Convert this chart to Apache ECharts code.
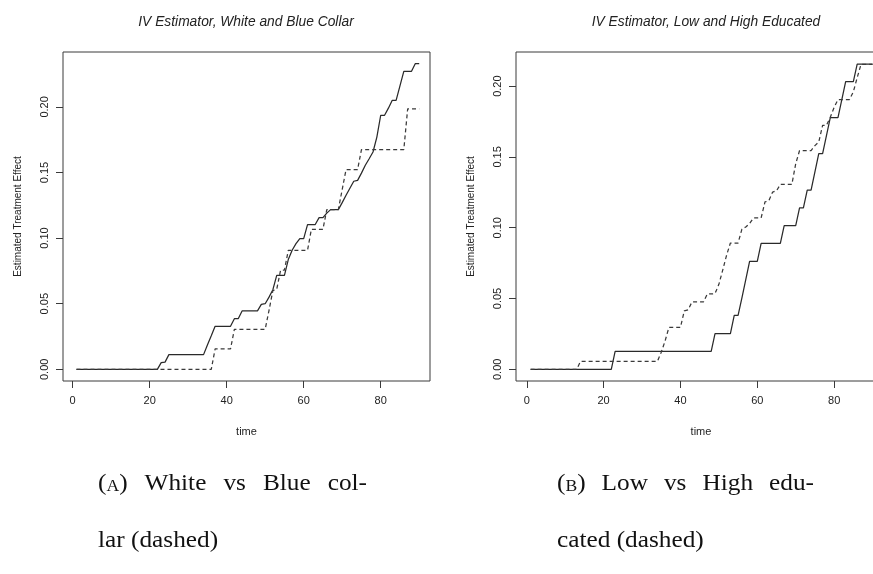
<!DOCTYPE html>
<html>
<head>
<meta charset="utf-8">
<script src="https://cdn.jsdelivr.net/npm/echarts@6/dist/echarts.min.js"></script>
<style>
html,body{margin:0;padding:0;background:#fff;overflow:hidden;width:873px;height:574px;}
#chart{width:900px;height:574px;}
</style>
</head>
<body>
<div id="chart"></div>
<script>
// ---- data ----
const time = [1,2,3,4,5,6,7,8,9,10,11,12,13,14,15,16,17,18,19,20,
  21,22,23,24,25,26,27,28,29,30,31,32,33,34,35,36,37,38,39,40,
  41,42,43,44,45,46,47,48,49,50,51,52,53,54,55,56,57,58,59,60,
  61,62,63,64,65,66,67,68,69,70,71,72,73,74,75,76,77,78,79,80,
  81,82,83,84,85,86,87,88,89,90];

// Panel A: White collar (solid) vs Blue collar (dashed)
const whiteCollar = [
  0,0,0,0,0,0,0,0,0,0,
  0,0,0,0,0,0,0,0,0,0,
  0,0,0.0051,0.0055,0.0112,0.0112,0.0112,0.0112,0.0112,0.0112,
  0.0112,0.0112,0.0112,0.0112,0.0185,0.0255,0.0328,0.0328,0.0328,0.0328,
  0.0328,0.0386,0.0386,0.0445,0.0445,0.0445,0.0445,0.0445,0.0495,0.0500,
  0.0550,0.0607,0.0716,0.0716,0.0716,0.0836,0.0907,0.0958,0.0996,0.0996,
  0.1103,0.1103,0.1103,0.1156,0.1156,0.1190,0.1217,0.1217,0.1217,0.1270,
  0.1326,0.1380,0.1433,0.1440,0.1495,0.1555,0.1605,0.1656,0.1770,0.1936,
  0.1936,0.1990,0.2050,0.2050,0.2160,0.2271,0.2271,0.2271,0.2330,0.2330];
const blueCollar = [
  0,0,0,0,0,0,0,0,0,0,
  0,0,0,0,0,0,0,0,0,0,
  0,0,0,0,0,0,0,0,0,0,
  0,0,0,0,0,0,0.0155,0.0155,0.0155,0.0155,
  0.0155,0.0305,0.0305,0.0305,0.0305,0.0305,0.0305,0.0305,0.0305,0.0305,
  0.0450,0.0600,0.0610,0.0755,0.0755,0.0907,0.0907,0.0907,0.0907,0.0907,
  0.0907,0.1067,0.1067,0.1067,0.1067,0.1217,0.1217,0.1217,0.1217,0.1370,
  0.1522,0.1522,0.1522,0.1522,0.1674,0.1674,0.1674,0.1674,0.1674,0.1674,
  0.1674,0.1674,0.1674,0.1674,0.1674,0.1674,0.1985,0.1985,0.1985,0.1985];

// Panel B: Low educated (solid) vs High educated (dashed)
const lowEdu = [
  0,0,0,0,0,0,0,0,0,0,
  0,0,0,0,0,0,0,0,0,0,
  0,0,0.0127,0.0127,0.0127,0.0127,0.0127,0.0127,0.0127,0.0127,
  0.0127,0.0127,0.0127,0.0127,0.0127,0.0127,0.0127,0.0127,0.0127,0.0127,
  0.0127,0.0127,0.0127,0.0127,0.0127,0.0127,0.0127,0.0127,0.0252,0.0252,
  0.0252,0.0252,0.0252,0.0381,0.0381,0.0505,0.0634,0.0763,0.0763,0.0763,
  0.0890,0.0890,0.0890,0.0890,0.0890,0.0890,0.1015,0.1015,0.1015,0.1015,
  0.1140,0.1140,0.1266,0.1266,0.1395,0.1523,0.1523,0.1650,0.1777,0.1777,
  0.1777,0.1905,0.2032,0.2032,0.2032,0.2155,0.2155,0.2155,0.2155,0.2155];
const highEdu = [
  0,0,0,0,0,0,0,0,0,0,
  0,0,0,0.0056,0.0056,0.0056,0.0056,0.0056,0.0056,0.0056,
  0.0056,0.0056,0.0056,0.0056,0.0056,0.0056,0.0056,0.0056,0.0056,0.0056,
  0.0056,0.0056,0.0056,0.0056,0.0120,0.0200,0.0296,0.0296,0.0296,0.0296,
  0.0412,0.0420,0.0476,0.0476,0.0476,0.0476,0.0532,0.0532,0.0535,0.0600,
  0.0700,0.0805,0.0892,0.0892,0.0892,0.0990,0.1005,0.1030,0.1069,0.1069,
  0.1069,0.1182,0.1190,0.1252,0.1260,0.1306,0.1306,0.1306,0.1306,0.1452,
  0.1545,0.1545,0.1545,0.1545,0.1580,0.1605,0.1723,0.1723,0.1780,0.1850,
  0.1905,0.1905,0.1905,0.1905,0.1960,0.2060,0.2154,0.2154,0.2154,0.2154];

const xTicks = [0, 20, 40, 60, 80];
const yTicks = [0, 0.05, 0.10, 0.15, 0.20];
const titles = ['IV Estimator, White and Blue Collar', 'IV Estimator, Low and High Educated'];
const yName = 'Estimated Treatment Effect';
const xName = 'time';
// captions: first line is justified (LaTeX style), second line is left aligned
const captionA = [['(', 'A', ') White vs Blue col-'], 'lar (dashed)'];
const captionB = [['(', 'B', ') Low vs High edu-'], 'cated (dashed)'];

// ---- chart ----
const pair = (ys) => time.map((t, i) => [t, ys[i]]);
const AX = '#3a3a3a';
const TXT = '#222';
const SANS = '"Liberation Sans", Arial, sans-serif';
const SERIF = '"Liberation Serif", "Times New Roman", serif';
const CAP_SIZE = 23, SC_SIZE = 16, CAP_SX = 1.1;

function xAxisCfg(idx, min, max) {
  return {
    type: 'value', gridIndex: idx, min: min, max: max, position: 'bottom',
    axisLine: { show: false, onZero: false },
    splitLine: { show: false },
    axisTick: { show: true, inside: false, customValues: xTicks, length: 7, lineStyle: { color: AX, width: 1 } },
    axisLabel: { customValues: xTicks, margin: 14, fontSize: 11, color: TXT, fontFamily: SANS },
    name: xName, nameLocation: 'middle', nameGap: 45,
    nameTextStyle: { fontSize: 11, color: TXT, fontFamily: SANS }
  };
}
function yAxisCfg(idx, min, max) {
  return {
    type: 'value', gridIndex: idx, min: min, max: max, position: 'left',
    axisLine: { show: false, onZero: false },
    splitLine: { show: false },
    axisTick: { show: true, inside: false, customValues: yTicks, length: 7, lineStyle: { color: AX, width: 1 } },
    axisLabel: { customValues: yTicks, rotate: 90, margin: 13, fontSize: 11, color: TXT, fontFamily: SANS,
      formatter: v => v.toFixed(2) },
    name: yName, nameLocation: 'middle', nameGap: 40, nameRotate: 90,
    nameTextStyle: { fontSize: 10, color: TXT, fontFamily: SANS }
  };
}
function lineSeries(idx, ys, dashed) {
  return {
    type: 'line', xAxisIndex: idx, yAxisIndex: idx, data: pair(ys),
    showSymbol: false, symbol: 'none', silent: true,
    lineStyle: { color: dashed ? '#3a3a3a' : '#2a2a2a', width: 1.25, type: dashed ? [4, 3] : 'solid' }
  };
}

// justified caption line built from word boxes
const mctx = document.createElement('canvas').getContext('2d');
function measure(text, size) { mctx.font = size + 'px ' + SERIF; return mctx.measureText(text).width * CAP_SX; }
function textEl(text, x, y, size) {
  return { type: 'text', x: x, y: y, scaleX: CAP_SX, silent: true,
    style: { text: text, fill: '#111', fontSize: size, fontFamily: SERIF, verticalAlign: 'middle', align: 'left' } };
}
function justifiedLine(parts, x0, x1, y) {
  const rest = parts[2].slice(1).trim().split(' ');
  const words = [{ segs: [[parts[0], CAP_SIZE], [parts[1], SC_SIZE], [')', CAP_SIZE]] }]
    .concat(rest.map(w => ({ segs: [[w, CAP_SIZE]] })));
  words.forEach(w => { w.width = w.segs.reduce((s, g) => s + measure(g[0], g[1]), 0); });
  const total = words.reduce((s, w) => s + w.width, 0);
  const gap = (x1 - x0 - total) / (words.length - 1);
  const els = [];
  let x = x0;
  words.forEach(w => {
    w.segs.forEach(g => {
      els.push(textEl(g[0], x, y + 0.35 * (CAP_SIZE - g[1]), g[1]));
      x += measure(g[0], g[1]);
    });
    x += gap;
  });
  return els;
}
function plainLine(text, x0, y) { return [textEl(text, x0, y, CAP_SIZE)]; }

const graphics = [
  { type: 'text', x: 246, y: 22, silent: true, style: { text: titles[0], fill: TXT, fontSize: 13.8, fontStyle: 'italic', fontFamily: SANS, align: 'center', verticalAlign: 'middle' } },
  { type: 'text', x: 706, y: 22, silent: true, style: { text: titles[1], fill: TXT, fontSize: 13.8, fontStyle: 'italic', fontFamily: SANS, align: 'center', verticalAlign: 'middle' } }
].concat(
  justifiedLine(captionA[0], 98, 367, 484),
  plainLine(captionA[1], 98, 541),
  justifiedLine(captionB[0], 557, 814, 484),
  plainLine(captionB[1], 557, 541)
);

const chart = echarts.init(document.getElementById('chart'), null, { renderer: 'canvas' });
chart.setOption({
  animation: false,
  backgroundColor: '#fff',
  grid: [
    { left: 63, top: 52, width: 367, height: 329, show: true, borderColor: AX, borderWidth: 1, containLabel: false },
    { left: 516, top: 52, width: 370, height: 329, show: true, borderColor: AX, borderWidth: 1, containLabel: false }
  ],
  xAxis: [ xAxisCfg(0, -2.5, 92.8), xAxisCfg(1, -2.8, 93.5) ],
  yAxis: [ yAxisCfg(0, -0.0089, 0.2418), yAxisCfg(1, -0.00826, 0.2241) ],
  series: [
    lineSeries(0, whiteCollar, false),
    lineSeries(0, blueCollar, true),
    lineSeries(1, lowEdu, false),
    lineSeries(1, highEdu, true)
  ],
  graphic: graphics
});
</script>
</body>
</html>
